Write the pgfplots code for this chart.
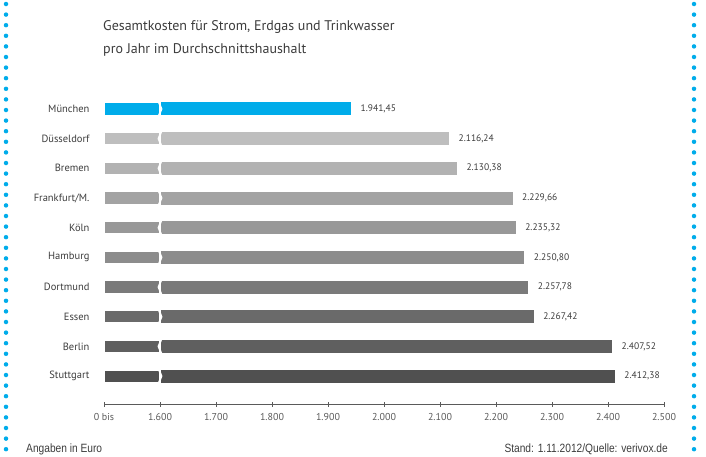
\documentclass[border=0pt]{standalone}
\usepackage{pgfplots}
\pgfplotsset{compat=1.18}
\usepackage{fontspec}
\setmainfont{PT Sans}
\newfontfamily\narrowfont[FakeStretch=0.85]{Liberation Sans}
\definecolor{mblue}{RGB}{0,172,234}
\definecolor{txt}{RGB}{60,60,60}
\definecolor{tick}{RGB}{90,90,90}
\definecolor{g1}{RGB}{190,190,190}
\definecolor{g2}{RGB}{178,178,178}
\definecolor{g3}{RGB}{163,163,163}
\definecolor{g4}{RGB}{152,152,152}
\definecolor{g5}{RGB}{140,140,140}
\definecolor{g6}{RGB}{122,122,122}
\definecolor{g7}{RGB}{106,106,106}
\definecolor{g8}{RGB}{95,95,95}
\definecolor{g9}{RGB}{80,80,80}
\pgfdeclareplotmark{brkL}{%
  \pgfpathmoveto{\pgfqpoint{1.5bp}{7.5bp}}%
  \pgfpathlineto{\pgfqpoint{-1.5bp}{0bp}}%
  \pgfpathlineto{\pgfqpoint{1.5bp}{-7.5bp}}%
  \pgfusepathqstroke}
\pgfdeclareplotmark{brkR}{%
  \pgfpathmoveto{\pgfqpoint{-1.5bp}{7.5bp}}%
  \pgfpathlineto{\pgfqpoint{1.5bp}{0bp}}%
  \pgfpathlineto{\pgfqpoint{-1.5bp}{-7.5bp}}%
  \pgfusepathqstroke}
\begin{document}
\begin{tikzpicture}
\path[use as bounding box] (0,0) rectangle (706bp,-457bp);
\draw[mblue, line width=4.5bp, line cap=round, dash pattern=on 0bp off 10.6bp] (6bp,-4bp) -- (6bp,-457bp);
\draw[mblue, line width=4.5bp, line cap=round, dash pattern=on 0bp off 10.6bp] (694bp,-4bp) -- (694bp,-457bp);
\node[anchor=base west, inner sep=0pt, font=\fontsize{14bp}{15bp}\selectfont, text=txt] at (103bp,-30bp) {Gesamtkosten für Strom, Erdgas und Trinkwasser};
\node[anchor=base west, inner sep=0pt, font=\fontsize{14bp}{15bp}\selectfont, text=txt] at (103bp,-53bp) {pro Jahr im Durchschnittshaushalt};
\node[anchor=base west, inner sep=0pt, font=\fontsize{12bp}{13bp}\narrowfont, text=txt] at (26bp,-452bp) {Angaben in Euro};
\node[anchor=base east, inner sep=0pt, font=\fontsize{12bp}{13bp}\narrowfont, text=txt] at (668bp,-452bp) {Stand: 1.11.2012/Quelle: verivox.de};
\begin{axis}[
  at={(104bp,-404bp)}, anchor=south west,
  scale only axis, width=560bp, height=309bp,
  xmin=1500, xmax=2500, ymin=-0.94, ymax=9.47,
  axis x line*=bottom, axis y line*=left,
  y axis line style={draw=none},
  x axis line style={draw=tick, line width=0.9bp},
  xtick={1500,1600,1700,1800,1900,2000,2100,2200,2300,2400,2500},
  xticklabels={0 bis,1.600,1.700,1.800,1.900,2.000,2.100,2.200,2.300,2.400,2.500},
  xtick align=center, major tick length=5bp,
  major x tick style={draw=tick, line width=0.8bp},
  major y tick style={draw=none},
  ytick={0,...,9},
  yticklabels={Stuttgart,Berlin,Essen,Dortmund,Hamburg,Köln,Frankfurt/M.,Bremen,Düsseldorf,München},
  yticklabel style={font=\fontsize{10.5bp}{12bp}\selectfont, text=txt, xshift=-6bp},
  xticklabel style={font=\fontsize{10bp}{12bp}\selectfont, text=tick, yshift=-3bp},
  /pgf/number format/assume math mode=true,
  xbar, bar width=13bp, bar shift=0pt,
  every node near coord/.append style={anchor=west, xshift=6bp, font=\fontsize{9.5bp}{11bp}\selectfont, text=txt},
]
\addplot[fill=mblue, draw=none, nodes near coords={1.941,45}] coordinates {(1941.45,9)};
\addplot[fill=g1, draw=none, nodes near coords={2.116,24}] coordinates {(2116.24,8)};
\addplot[fill=g2, draw=none, nodes near coords={2.130,38}] coordinates {(2130.38,7)};
\addplot[fill=g3, draw=none, nodes near coords={2.229,66}] coordinates {(2229.66,6)};
\addplot[fill=g4, draw=none, nodes near coords={2.235,32}] coordinates {(2235.32,5)};
\addplot[fill=g5, draw=none, nodes near coords={2.250,80}] coordinates {(2250.80,4)};
\addplot[fill=g6, draw=none, nodes near coords={2.257,78}] coordinates {(2257.78,3)};
\addplot[fill=g7, draw=none, nodes near coords={2.267,42}] coordinates {(2267.42,2)};
\addplot[fill=g8, draw=none, nodes near coords={2.407,52}] coordinates {(2407.52,1)};
\addplot[fill=g9, draw=none, nodes near coords={2.412,38}] coordinates {(2412.38,0)};
\addplot[only marks, mark=brkR, draw=white, line width=1.8bp, xbar=false] coordinates {(1600,9) (1600,6) (1600,4) (1600,2) (1600,0)};
\addplot[only marks, mark=brkL, draw=white, line width=1.8bp, xbar=false] coordinates {(1600,8) (1600,7) (1600,5) (1600,3) (1600,1)};
\end{axis}
\end{tikzpicture}
\end{document}
